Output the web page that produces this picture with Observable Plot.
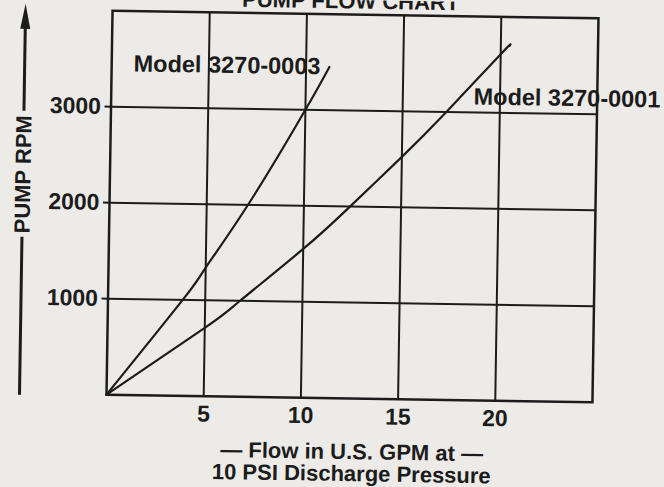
<!DOCTYPE html>
<html><head><meta charset="utf-8">
<script src="https://cdn.jsdelivr.net/npm/d3@7"></script>
<script src="https://cdn.jsdelivr.net/npm/@observablehq/plot@0.6"></script>
<style>
html,body{margin:0;padding:0;background:#ecebe7;overflow:hidden;}
#chart svg{display:block;transform:rotate(0.9deg);transform-origin:352px 206px;}
</style></head><body><div id="chart"></div>
<script>
const title = "PUMP FLOW CHART";
const xLabel = "— Flow in U.S. GPM at —\n10 PSI Discharge Pressure";
const yLabel = "PUMP RPM";
const xTicks = [5, 10, 15, 20];
const yTicks = [1000, 2000, 3000];
const seriesNames = ["Model 3270-0003", "Model 3270-0001"];
const flow0003 = [0, 3.9, 5, 7.2, 10, 11.2];
const rpm0003 = [0, 1015, 1340, 2025, 3000, 3450];
const flow0001 = [0, 5, 6.75, 10, 12.25, 15, 17.25, 20, 20.45];
const rpm0001 = [0, 712, 992, 1550, 1975, 2525, 3000, 3610, 3700];

const ink = "#1c1c1c";
const font = "'Liberation Sans', Arial, Helvetica, sans-serif";
const yLabelDx = -86.5, yLabelDy = -27;

const s0003 = flow0003.map((f, i) => ({flow: f, rpm: rpm0003[i]}));
const s0001 = flow0001.map((f, i) => ({flow: f, rpm: rpm0001[i]}));
const lab0003 = [{name: seriesNames[0], ...s0003[s0003.length - 1]}];
const lab0001 = [{name: seriesNames[1], ...s0001[rpm0001.indexOf(3000)]}];

function yArrow(index, scales, values, dim) {
  const g = d3.create("svg:g").attr("stroke", ink).attr("fill", ink);
  const x = dim.marginLeft + yLabelDx;
  const top = dim.marginTop;
  const bottom = dim.height - dim.marginBottom + 2;
  const yc = (dim.marginTop + dim.height - dim.marginBottom) / 2 + yLabelDy;
  const half = 63;
  g.append("line").attr("x1", x).attr("x2", x).attr("y1", bottom).attr("y2", yc + half).attr("stroke-width", 3);
  g.append("line").attr("x1", x).attr("x2", x).attr("y1", yc - half).attr("y2", top + 18).attr("stroke-width", 3);
  g.append("path").attr("d", `M${x},${top - 5}L${x - 5},${top + 20}L${x + 5},${top + 20}Z`).attr("stroke", "none");
  return g.node();
}

const chart = Plot.plot({
  width: 664,
  height: 487,
  marginLeft: 109,
  marginRight: 69,
  marginTop: 14,
  marginBottom: 89,
  style: {background: "transparent", color: ink, fontFamily: font, fontSize: "22px", fontWeight: "bold"},
  x: {domain: [0, 25]},
  y: {domain: [0, 4000]},
  marks: [
    Plot.gridX(xTicks, {stroke: ink, strokeOpacity: 1, strokeWidth: 2}),
    Plot.gridY(yTicks, {stroke: ink, strokeOpacity: 1, strokeWidth: 2}),
    Plot.frame({stroke: ink, strokeWidth: 2.5}),
    Plot.axisX(xTicks, {tickSize: 0, tickPadding: 9, tickFormat: d => String(d), label: null, fontSize: 23, fontWeight: "bold"}),
    Plot.axisY(yTicks, {tickSize: 6, tickPadding: 4, strokeWidth: 2, tickFormat: d => String(d), label: null, fontSize: 23, fontWeight: "bold"}),
    Plot.line(s0003, {x: "flow", y: "rpm", curve: "natural", stroke: ink, strokeWidth: 2.2}),
    Plot.line(s0001, {x: "flow", y: "rpm", curve: "natural", stroke: ink, strokeWidth: 2.2}),
    Plot.text(lab0003, {x: "flow", y: "rpm", text: "name", textAnchor: "end", dx: -9, dy: 0, lineAnchor: "middle", fontSize: 23.5, fontWeight: "bold", fill: ink}),
    Plot.text(lab0001, {x: "flow", y: "rpm", text: "name", textAnchor: "start", dx: 27, dy: -15.5, lineAnchor: "middle", fontSize: 23.5, fontWeight: "bold", fill: ink}),
    Plot.text([title], {frameAnchor: "top", lineAnchor: "bottom", dx: -5, dy: -6, fontSize: 22, fontWeight: "bold", fill: ink}),
    Plot.text([xLabel], {frameAnchor: "bottom", lineAnchor: "top", dy: 45, dx: 3, lineHeight: 1, fontSize: 22, fontWeight: "bold", fill: ink}),
    Plot.text([yLabel], {frameAnchor: "left", rotate: -90, textAnchor: "middle", dx: yLabelDx, dy: yLabelDy, lineAnchor: "middle", fontSize: 22, fontWeight: "bold", fill: ink}),
    yArrow
  ]
});
document.getElementById("chart").append(chart);
</script></body></html>
